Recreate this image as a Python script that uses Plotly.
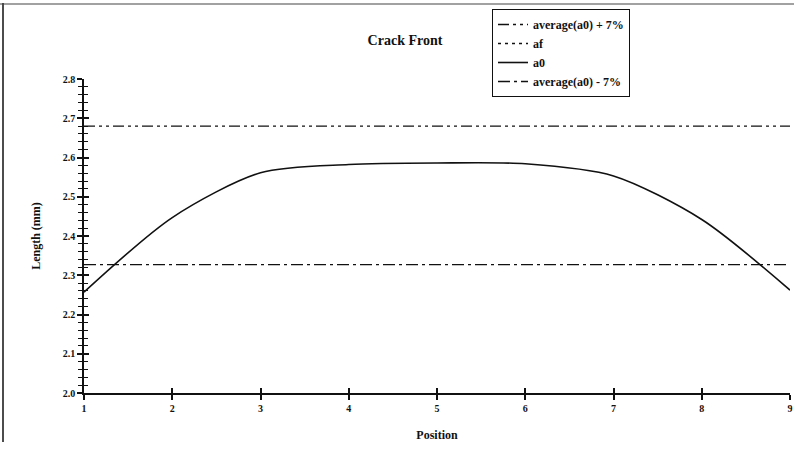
import plotly.graph_objects as go

# Crack front profile measured at nine positions across the specimen
positions = [1, 2, 3, 4, 5, 6, 7, 8, 9]
a0 = [2.257, 2.447, 2.561, 2.582, 2.586, 2.584, 2.553, 2.442, 2.262]
af_x = [None]  # final crack front: no readings plotted
af_y = [None]

# Tolerance band: average(a0) +/- 7%
band_upper = [2.680, 2.680]
band_lower = [2.327, 2.327]
band_x = [1, 9]

y_ticks = [2.0, 2.1, 2.2, 2.3, 2.4, 2.5, 2.6, 2.7, 2.8]
y_tick_text = ["2.0", "2.1", "2.2", "2.3", "2.4", "2.5", "2.6", "2.7", "2.8"]
x_ticks = [1, 2, 3, 4, 5, 6, 7, 8, 9]

SERIF = "Liberation Serif"
INK = "#111111"

# plot-area geometry in pixels, used to place the page frame
L, R, T, B = 84, 790, 79, 393
PW, PH = R - L, B - T


def px_x(p):
    return (p - L) / PW


def px_y(p):
    return (B - p) / PH


fig = go.Figure()

fig.add_trace(go.Scatter(
    x=band_x, y=band_upper, mode="lines", name="average(a0) + 7%",
    line=dict(color=INK, width=1.3, dash="11px,4px,3px,4px,3px,4px"),
))
fig.add_trace(go.Scatter(
    x=af_x, y=af_y, mode="lines", name="af",
    line=dict(color=INK, width=1.3, dash="3px,4px"),
))
fig.add_trace(go.Scatter(
    x=positions, y=a0, mode="lines", name="a0",
    line=dict(color=INK, width=1.6, shape="spline", smoothing=0.8),
))
fig.add_trace(go.Scatter(
    x=band_x, y=band_lower, mode="lines", name="average(a0) - 7%",
    line=dict(color=INK, width=1.3, dash="12px,4px,3px,4px"),
))
# companion axes carrying the inward half of the crossing tick marks
fig.add_trace(go.Scatter(
    x=[None], y=[None], xaxis="x2", yaxis="y2", showlegend=False, hoverinfo="skip",
))

tick_font = dict(family=SERIF, size=10, color=INK, weight="bold")

fig.update_layout(
    width=794, height=466,
    margin=dict(l=L, r=794 - R, t=T, b=466 - B, autoexpand=False),
    paper_bgcolor="white", plot_bgcolor="white",
    showlegend=True,
    title=dict(
        text="Crack Front", x=405 / 794, xanchor="center", y=1 - 40 / 466, yanchor="middle",
        font=dict(family=SERIF, size=14, color=INK, weight="bold"),
    ),
    legend=dict(
        xref="paper", yref="paper",
        x=px_x(492), y=px_y(9), xanchor="left", yanchor="top",
        bgcolor="white", bordercolor=INK, borderwidth=1,
        font=dict(family=SERIF, size=12, color=INK, weight="bold"),
        tracegroupgap=0, itemwidth=30,
    ),
    xaxis=dict(
        range=[1, 9], tickvals=x_ticks, ticktext=[str(v) for v in x_ticks],
        showgrid=False, zeroline=False,
        showline=True, linecolor=INK, linewidth=1.5,
        ticks="outside", ticklen=5, tickwidth=1.5, tickcolor=INK,
        tickfont=tick_font,
        title=dict(text="Position", standoff=18,
                   font=dict(family=SERIF, size=12, color=INK, weight="bold")),
    ),
    yaxis=dict(
        range=[2.0, 2.8], tickvals=y_ticks, ticktext=y_tick_text,
        showgrid=False, zeroline=False,
        showline=True, linecolor=INK, linewidth=1.5,
        ticks="outside", ticklen=5, tickwidth=1.5, tickcolor=INK,
        minor=dict(dtick=0.02, ticks="outside", ticklen=4, tickwidth=1.2, tickcolor=INK),
        tickfont=tick_font,
        title=dict(text="Length (mm)", standoff=20,
                   font=dict(family=SERIF, size=12, color=INK, weight="bold")),
    ),
    xaxis2=dict(
        overlaying="x", range=[1, 9], tickvals=x_ticks, side="bottom",
        showticklabels=False, showgrid=False, zeroline=False, showline=False,
        ticks="inside", ticklen=5, tickwidth=1.5, tickcolor=INK,
    ),
    yaxis2=dict(
        overlaying="y", range=[2.0, 2.8], tickvals=y_ticks, side="left",
        showticklabels=False, showgrid=False, zeroline=False, showline=False,
        ticks="inside", ticklen=5, tickwidth=1.5, tickcolor=INK,
        minor=dict(dtick=0.02, ticks="inside", ticklen=4, tickwidth=1.2, tickcolor=INK),
    ),
    shapes=[
        # page frame edges
        dict(type="line", xref="paper", yref="paper",
             x0=px_x(3), x1=px_x(3), y0=px_y(3), y1=px_y(442),
             line=dict(color=INK, width=1.5)),
        dict(type="line", xref="paper", yref="paper",
             x0=px_x(0), x1=px_x(794), y0=px_y(4), y1=px_y(4),
             line=dict(color="#444444", width=1.2)),
    ],
)

fig.write_html("out.html")
